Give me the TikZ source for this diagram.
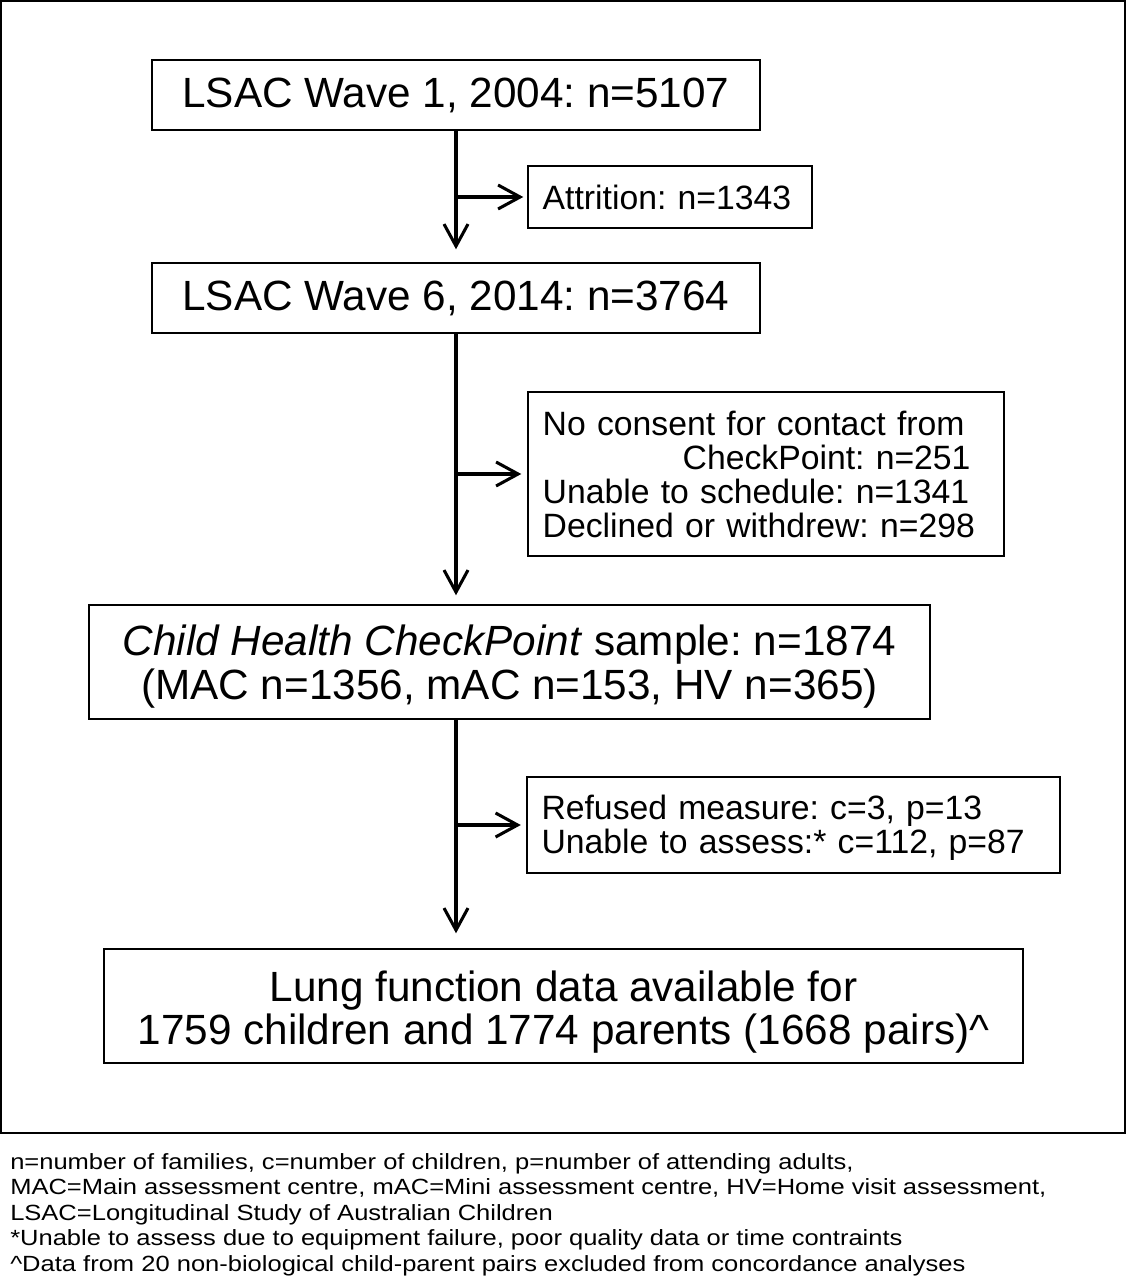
\documentclass[tikz,border=0pt]{standalone}
\usepackage{fontspec}
\setmainfont{Liberation Sans}
\newfontfamily\notefont[FakeStretch=1.16]{Liberation Sans}
\usetikzlibrary{arrows.meta}
\begin{document}
\frenchspacing
\begin{tikzpicture}[x=0.75pt,y=-0.75pt,
  box/.style={draw,line width=1.1pt,rectangle,inner sep=0pt},
  bigtxt/.style={font=\frenchspacing\fontsize{31.7}{33}\selectfont,align=center},
  smalltxt/.style={font=\frenchspacing\fontsize{25.3}{25.5}\selectfont,align=left},
  flow/.style={line width=2.3pt,-{Straight Barb[length=16.5pt,width=18pt,line width=2.3pt]}}]
\useasboundingbox (0,0) rectangle (1126,1280);
\draw[line width=1.6pt] (1,1) rectangle (1125,1133);

\node[box,bigtxt,minimum width=456pt,minimum height=52.5pt] (b1) at (456,95) {LSAC Wave 1, 2004: n=5107};
\node[box,smalltxt,minimum height=46.5pt,text width=191pt,inner xsep=11pt] (b2) at (670,197) {Attrition: n=1343};
\node[box,bigtxt,minimum width=456pt,minimum height=52.5pt] (b3) at (456,298) {LSAC Wave 6, 2014: n=3764};
\node[box,smalltxt,minimum height=123pt,text width=335pt,inner xsep=11pt] (b4) at (766,474) {No consent for contact from\\\hspace*{105pt}CheckPoint: n=251\\Unable to schedule: n=1341\\Declined or withdrew: n=298};
\node[box,bigtxt,minimum width=630.75pt,minimum height=85.5pt] (b5) at (509.5,662) {\rule{0pt}{30.5pt}\textit{Child Health CheckPoint} sample: n=1874\\(MAC n=1356, mAC n=153, HV n=365)};
\node[box,smalltxt,minimum height=72pt,text width=378pt,inner xsep=11pt,font=\frenchspacing\fontsize{25.3}{26.2}\selectfont] (b6) at (793.5,825) {\rule{0pt}{22.5pt}Refused measure: c=3, p=13\\Unable to assess:* c=112, p=87};
\node[box,bigtxt,minimum width=689.25pt,minimum height=85.5pt,font=\frenchspacing\fontsize{31.7}{32.3}\selectfont] (b7) at (563.5,1006) {\rule{0pt}{32pt}Lung function data available for\\1759 children and 1774 parents (1668 pairs)\^{}};

\draw[flow,shorten >=9.75pt] (b1.south) -- (b3.north);
\draw[flow,shorten >=3pt] (b2.west -| b1.south) -- (b2.west);
\draw[flow,shorten >=6.75pt] (b3.south) -- (b3.south |- b5.north);
\draw[flow,shorten >=4.5pt] (b4.west -| b3.south) -- (b4.west);
\draw[flow,shorten >=11.25pt] (b3.south |- b5.south) -- (b3.south |- b7.north);
\draw[flow,shorten >=4pt] (b6.west -| b3.south) -- (b6.west);

\node[anchor=north west,align=left,inner sep=0pt,font=\notefont\frenchspacing\fontsize{16.5}{19.1}\selectfont] (notes) at (10,1153) {n=number of families, c=number of children, p=number of attending adults,\\MAC=Main assessment centre, mAC=Mini assessment centre, HV=Home visit assessment,\\LSAC=Longitudinal Study of Australian Children\\*Unable to assess due to equipment failure, poor quality data or time contraints\\\^{}Data from 20 non-biological child-parent pairs excluded from concordance analyses};
\end{tikzpicture}
\end{document}
